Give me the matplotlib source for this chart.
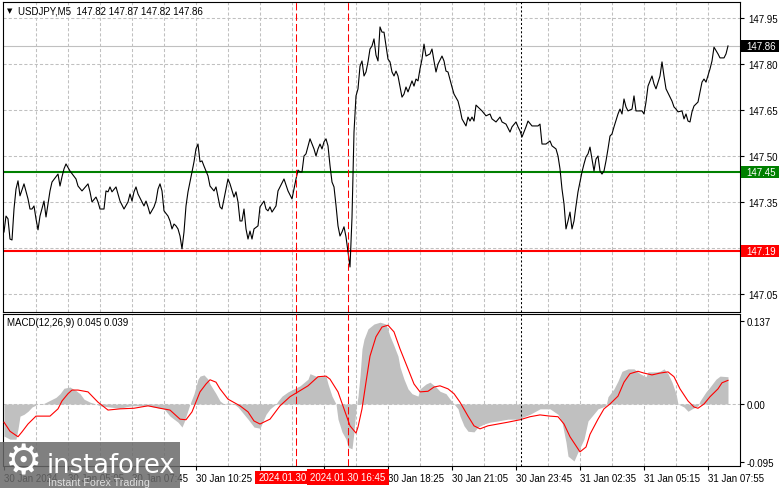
import matplotlib
matplotlib.use("Agg")
import matplotlib.pyplot as plt
from matplotlib.patches import Rectangle

plt.rcParams['font.family'] = ['Liberation Sans', 'DejaVu Sans']

W, H = 781, 489
FS = 7.0

# ---------------- data ----------------
title = "USDJPY,M5  147.82 147.87 147.82 147.86"
macd_title = "MACD(12,26,9) 0.045 0.039"

price_bar = [
    0, 1, 2, 3, 4, 5, 6, 7, 8, 10,
    12, 13, 14, 15, 16, 17, 18, 20, 21, 23,
    24, 27, 28, 29, 30, 31, 33, 36, 37, 39,
    42, 43, 44, 46, 47, 48, 50, 51, 52, 53,
    54, 56, 57, 58, 60, 62, 63, 64, 65, 66,
    67, 69, 70, 71, 72, 73, 75, 76, 77, 78,
    79, 80, 82, 83, 84, 85, 86, 87, 88, 89,
    90, 91, 92, 93, 94, 95, 96, 97, 98, 99,
    100, 102, 103, 105, 106, 107, 108, 109, 110, 112,
    113, 115, 116, 117, 118, 119, 120, 121, 122, 123,
    124, 125, 127, 128, 130, 131, 132, 133, 134, 136,
    137, 140, 142, 144, 145, 146, 147, 148, 149, 150,
    151, 153, 154, 155, 156, 157, 158, 159, 160, 161,
    162, 163, 164, 165, 166, 167, 168, 169, 170, 171,
    172, 173, 174, 175, 176, 177, 178, 179, 180, 181,
    182, 183, 184, 185, 186, 187, 188, 189, 190, 191,
    192, 193, 194, 195, 196, 197, 199, 200, 201, 202,
    204, 205, 206, 207, 208, 209, 210, 211, 213, 214,
    215, 216, 217, 219, 220, 221, 222, 224, 225, 227,
    228, 229, 231, 232, 233, 234, 235, 236, 238, 239,
    241, 243, 244, 246, 248, 249, 251, 253, 254, 256,
    257, 258, 259, 261, 262, 264, 267, 268, 269, 271,
    273, 274, 276, 277, 278, 279, 280, 281, 282, 283,
    284, 285, 286, 287, 288, 289, 290, 291, 292, 293,
    294, 295, 296, 297, 298, 299, 300, 301, 302, 303,
    304, 305, 307, 308, 309, 310, 311, 312, 314,
    315, 316, 319, 320, 321, 322, 323, 324, 325, 326,
    328, 329, 330, 331, 333, 334, 335, 336, 337, 339,
    340, 341, 342, 343, 344, 345, 347, 349, 350, 351,
    353, 354, 355, 357, 358, 360, 361, 362,
]
price_close = [
    147.253, 147.305, 147.296, 147.230, 147.227, 147.328, 147.393, 147.420, 147.371, 147.410,
    147.361, 147.328, 147.328, 147.338, 147.296, 147.260, 147.305, 147.354, 147.302, 147.387,
    147.416, 147.442, 147.403, 147.433, 147.459, 147.475, 147.452, 147.426, 147.403, 147.387,
    147.410, 147.384, 147.351, 147.367, 147.351, 147.328, 147.328, 147.387, 147.384, 147.400,
    147.384, 147.400, 147.377, 147.354, 147.328, 147.351, 147.377, 147.354, 147.384, 147.400,
    147.377, 147.351, 147.338, 147.354, 147.335, 147.312, 147.335, 147.354, 147.393, 147.410,
    147.387, 147.322, 147.305, 147.289, 147.263, 147.279, 147.273, 147.263, 147.240, 147.198,
    147.253, 147.338, 147.384, 147.416, 147.449, 147.482, 147.524, 147.540, 147.482, 147.485,
    147.468, 147.436, 147.403, 147.387, 147.400, 147.367, 147.335, 147.328, 147.361, 147.426,
    147.410, 147.367, 147.384, 147.351, 147.289, 147.289, 147.328, 147.263, 147.230, 147.256,
    147.230, 147.263, 147.273, 147.335, 147.354, 147.328, 147.322, 147.335, 147.318, 147.338,
    147.387, 147.426, 147.387, 147.361, 147.393, 147.426, 147.455, 147.449, 147.449, 147.501,
    147.508, 147.557, 147.540, 147.524, 147.501, 147.524, 147.540, 147.524, 147.547, 147.557,
    147.534, 147.470, 147.416, 147.400, 147.340, 147.273, 147.240, 147.253, 147.270, 147.237,
    147.188, 147.139, 147.300, 147.579, 147.697, 147.720, 147.794, 147.811, 147.762, 147.775,
    147.808, 147.850, 147.860, 147.883, 147.830, 147.811, 147.922, 147.905, 147.905, 147.860,
    147.817, 147.808, 147.775, 147.762, 147.778, 147.762, 147.693, 147.703, 147.726, 147.710,
    147.746, 147.729, 147.752, 147.746, 147.785, 147.817, 147.866, 147.827, 147.834, 147.850,
    147.811, 147.775, 147.801, 147.827, 147.811, 147.778, 147.775, 147.726, 147.703, 147.680,
    147.654, 147.622, 147.599, 147.628, 147.615, 147.628, 147.615, 147.667, 147.654, 147.648,
    147.632, 147.638, 147.622, 147.612, 147.628, 147.612, 147.605, 147.579, 147.596, 147.612,
    147.596, 147.583, 147.563, 147.596, 147.615, 147.599, 147.599, 147.605, 147.540, 147.540,
    147.550, 147.534, 147.524, 147.501, 147.459, 147.393, 147.345, 147.263, 147.289, 147.318,
    147.263, 147.289, 147.338, 147.384, 147.416, 147.449, 147.475, 147.498, 147.508, 147.530,
    147.491, 147.452, 147.491, 147.501, 147.452, 147.442, 147.452, 147.485, 147.524, 147.566,
    147.573, 147.596, 147.638, 147.654, 147.638, 147.687, 147.661, 147.648, 147.654,
    147.697, 147.648, 147.648, 147.638, 147.677, 147.729, 147.746, 147.762, 147.736, 147.720,
    147.762, 147.808, 147.762, 147.720, 147.693, 147.680, 147.661, 147.654, 147.645, 147.648,
    147.622, 147.638, 147.615, 147.612, 147.645, 147.664, 147.677, 147.742, 147.752, 147.742,
    147.785, 147.811, 147.856, 147.834, 147.821, 147.821, 147.834, 147.860,
]

macd_bar = [
    0, 3, 6, 7, 8, 10, 12, 14, 17, 20,
    26, 28, 30, 33, 36, 38, 40, 43, 46, 48,
    53, 58, 62, 64, 68, 72, 75, 80, 83, 87,
    89, 90, 93, 95, 97, 98, 100, 102, 103, 106,
    108, 110, 112, 115, 117, 119, 122, 125, 128, 131,
    133, 136, 137, 139, 142, 145, 148, 152, 153, 156,
    158, 161, 162, 164, 166, 167, 169, 171, 172, 174,
    175, 176, 177, 178, 179, 180, 182, 185, 188, 191,
    193, 195, 197, 198, 200, 202, 204, 207, 208, 211,
    213, 216, 218, 221, 223, 225, 227, 228, 230, 232,
    235, 237, 240, 243, 247, 252, 257, 263, 268, 273,
    277, 279, 281, 282, 285, 287, 290, 292, 294, 297,
    301, 302, 305, 307, 309, 312, 315, 318, 321, 322,
    326, 328, 330, 332, 334, 336, 337, 340, 342, 344,
    347, 348, 351, 353, 356, 358, 362,
]
macd_main = [
    -0.053, -0.058, -0.058, -0.041, -0.020, -0.017, -0.012, -0.005, 0.000, 0.001,
    0.011, 0.017, 0.026, 0.028, 0.022, 0.017, 0.008, 0.003, 0.000, -0.003,
    -0.005, -0.007, -0.004, -0.003, -0.003, -0.003, -0.005, -0.008, -0.020, -0.030,
    -0.038, -0.030, 0.000, 0.017, 0.041, 0.046, 0.048, 0.041, 0.033, 0.017,
    0.005, 0.000, 0.002, 0.000, -0.005, -0.013, -0.025, -0.038, -0.040, -0.017,
    -0.008, 0.000, 0.005, 0.013, 0.020, 0.025, 0.030, 0.041, 0.050, 0.046,
    0.045, 0.046, 0.033, 0.013, 0.000, -0.025, -0.046, -0.058, -0.071, -0.074,
    -0.046, -0.008, 0.013, 0.046, 0.091, 0.107, 0.124, 0.132, 0.135, 0.132,
    0.112, 0.096, 0.079, 0.061, 0.041, 0.025, 0.017, 0.013, 0.025, 0.033,
    0.036, 0.028, 0.021, 0.017, 0.008, 0.000, -0.008, -0.020, -0.036, -0.045,
    -0.046, -0.038, -0.033, -0.030, -0.028, -0.025, -0.025, -0.017, -0.008, -0.008,
    -0.017, -0.030, -0.063, -0.086, -0.094, -0.079, -0.058, -0.028, -0.020, -0.008,
    -0.003, 0.012, 0.025, 0.038, 0.054, 0.058, 0.058, 0.050, 0.045, 0.053,
    0.053, 0.054, 0.058, 0.050, 0.036, 0.017, 0.000, -0.005, -0.012, -0.008,
    -0.003, 0.005, 0.020, 0.028, 0.041, 0.046, 0.045,
]

signal_bar = [
    0, 3, 7, 9, 12, 16, 23, 27, 29, 32,
    34, 37, 42, 47, 52, 58, 65, 72, 78, 83,
    88, 91, 94, 98, 101, 103, 106, 108, 112, 118,
    122, 125, 128, 133, 138, 143, 147, 152, 157, 161,
    163, 167, 170, 173, 176, 177, 179, 181, 183, 186,
    189, 192, 195, 198, 202, 205, 208, 212, 215, 218,
    222, 225, 228, 232, 235, 238, 242, 247, 252, 258,
    263, 268, 273, 277, 280, 283, 287, 288, 291, 293,
    297, 300, 303, 307, 310, 313, 317, 320, 324, 328,
    332, 335, 338, 342, 345, 347, 350, 353, 357, 359,
    362,
]
macd_signal = [
    -0.030, -0.045, -0.054, -0.046, -0.033, -0.020, -0.020, -0.008, 0.005, 0.017,
    0.023, 0.023, 0.020, 0.003, -0.010, -0.008, -0.007, -0.003, -0.007, -0.010,
    -0.025, -0.026, -0.013, 0.020, 0.033, 0.040, 0.036, 0.025, 0.008, -0.003,
    -0.013, -0.028, -0.033, -0.025, -0.003, 0.012, 0.020, 0.030, 0.045, 0.046,
    0.041, 0.020, -0.008, -0.036, -0.048, -0.038, -0.008, 0.036, 0.079, 0.111,
    0.127, 0.130, 0.119, 0.091, 0.058, 0.033, 0.020, 0.021, 0.028, 0.030,
    0.025, 0.017, 0.003, -0.020, -0.036, -0.041, -0.036, -0.033, -0.030, -0.026,
    -0.021, -0.018, -0.020, -0.021, -0.033, -0.054, -0.074, -0.079, -0.071, -0.050,
    -0.025, -0.008, 0.000, 0.013, 0.036, 0.050, 0.054, 0.051, 0.048, 0.051,
    0.053, 0.045, 0.025, 0.005, -0.005, -0.007, 0.000, 0.012, 0.025, 0.035,
    0.039,
]

price_ticks = [147.05, 147.20, 147.35, 147.50, 147.65, 147.80, 147.95]
# 147.20 is hidden behind the 147.19 label box in the reference
price_tick_labels = ["147.05", "", "147.35", "147.50", "147.65", "147.80", "147.95"]
resistance_level = 147.45
support_level = 147.19
bid_level = 147.86
macd_ticks = [-0.095, 0.0, 0.137]
macd_tick_labels = ["-0.095", "0.00", "0.137"]

grid_bars = [16 * k for k in range(1, 23)]
time_tick_bars = [0, 32, 64, 96, 128, 160, 192, 224, 256, 288, 320, 352]
# the 13:05 and 15:45 labels are covered by the vertical-line labels
time_tick_labels = ["30 Jan 2024", "30 Jan 05:05", "30 Jan 07:45", "30 Jan 10:25",
                    "", "", "30 Jan 18:25", "30 Jan 21:05",
                    "30 Jan 23:45", "31 Jan 02:35", "31 Jan 05:15", "31 Jan 07:55"]
event_bars = [146, 172]
event_labels = ["2024.01.30", "2024.01.30 16:45"]
day_sep_bar = 258.5

# ---------------- figure ----------------
fig = plt.figure(figsize=(W / 100, H / 100), dpi=100)
fig.patch.set_facecolor('white')


def frect(x0, y0, x1, y1):
    return [x0 / W, 1 - y1 / H, (x1 - x0) / W, (y1 - y0) / H]


ax = fig.add_axes(frect(3, 2.5, 740, 313))
axm = fig.add_axes(frect(3, 315, 740, 467))

for a in (ax, axm):
    a.set_xlim(-0.5, 368)
    a.set_facecolor('white')
    for s in a.spines.values():
        s.set_color('black')
        s.set_linewidth(0.8)
ax.set_ylim(146.992, 148.005)
axm.set_ylim(-0.1023, 0.1485)

grid_kw = dict(color='#c0c0c0', lw=0.75, linestyle=(0, (3, 2)), zorder=0.5)
for b in grid_bars:
    ax.axvline(b, **grid_kw)
    axm.axvline(b, **grid_kw)
for p in price_ticks:
    ax.axhline(p, **grid_kw)

# price panel
ax.axhline(bid_level, color='#c0c0c0', lw=0.8, zorder=1)
ax.axhline(resistance_level, color='#008000', lw=1.5, zorder=2)
ax.axhline(support_level, color='#ff0000', lw=1.5, zorder=2)
ax.plot(price_bar, price_close, color='black', lw=0.8, zorder=3)

# macd panel
axm.fill_between(macd_bar, 0, macd_main, color='#c0c0c0', lw=0, zorder=1)
axm.axhline(0, **grid_kw)
axm.plot(signal_bar, macd_signal, color='#ff0000', lw=0.8, zorder=3)

for a in (ax, axm):
    for b in event_bars:
        a.axvline(b, color='#ff0000', lw=0.75, linestyle=(0, (7, 3)), zorder=4)
    a.axvline(day_sep_bar, color='black', lw=0.75, linestyle=(0, (2, 2)), zorder=4)

# axes ticks
ax.yaxis.tick_right()
ax.set_yticks(price_ticks)
ax.set_yticklabels(price_tick_labels)
ax.set_xticks([])
ax.tick_params(axis='y', length=3, width=0.8, labelsize=FS, pad=3)

axm.yaxis.tick_right()
axm.set_yticks(macd_ticks)
axm.set_yticklabels(macd_tick_labels)
axm.tick_params(axis='y', length=3, width=0.8, labelsize=FS, pad=2)
axm.set_xticks(time_tick_bars)
axm.set_xticklabels(time_tick_labels)
axm.tick_params(axis='x', length=3, width=0.8, labelsize=FS, pad=2)
for lbl in axm.get_xticklabels():
    lbl.set_horizontalalignment('left')


# price labels on the right axis
def price_box(value, text, color):
    ypix = ax.transData.transform((0, value))[1]
    fig.add_artist(Rectangle((741 / W, (ypix - 6) / H), 38 / W, 12 / H,
                             transform=fig.transFigure, facecolor=color,
                             edgecolor='none', zorder=10))
    fig.text(746 / W, ypix / H, text, color='white', fontsize=FS,
             ha='left', va='center', zorder=11)


price_box(bid_level, f"{bid_level:.2f}", 'black')
price_box(resistance_level, f"{resistance_level:.2f}", '#008000')
price_box(support_level, f"{support_level:.2f}", '#ff0000')

# vertical-line labels on the time axis
x_first = axm.transData.transform((event_bars[0], 0))[0]
x_second = axm.transData.transform((event_bars[1], 0))[0]
fig.add_artist(Rectangle((255 / W, 1 - 484.5 / H), (x_second - 255) / W, 12.5 / H,
                         transform=fig.transFigure, facecolor='#ff0000',
                         edgecolor='none', zorder=12))
fig.text((x_first - 37) / W, 1 - 478 / H, event_labels[0], ha='left', va='center',
         color='white', fontsize=FS, zorder=13)
fig.text(x_second / W, 1 - 478 / H, event_labels[1], ha='center', va='center',
         color='white', fontsize=FS, zorder=13,
         bbox=dict(boxstyle='square,pad=0.3', fc='#ff0000', ec='none'))

# titles
fig.text(7 / W, 1 - 11 / H, '\u25bc', fontsize=5, family='DejaVu Sans',
         ha='left', va='center', zorder=12)
fig.text(18 / W, 1 - 11 / H, title, fontsize=FS, ha='left', va='center', zorder=12)
fig.text(7 / W, 1 - 323 / H, macd_title, fontsize=FS, ha='left', va='center', zorder=12)

# watermark
fig.add_artist(Rectangle((0, 0), 180 / W, 46 / H, transform=fig.transFigure,
                         facecolor='#6a6a6a', alpha=0.85, edgecolor='none', zorder=20))
fig.text(23 / W, 1 - 462 / H, '\u2699', fontsize=30, family='DejaVu Sans',
         color='white', ha='center', va='center', zorder=21)
fig.text(47 / W, 1 - 473 / H, 'instaforex', fontsize=18.5, family='DejaVu Sans',
         color='white', ha='left', va='baseline', zorder=21)
fig.text(48 / W, 1 - 486 / H, 'Instant Forex Trading', fontsize=7.7,
         color='#e0e0e0', ha='left', va='baseline', zorder=21)

fig.savefig('out.png', dpi=100)
